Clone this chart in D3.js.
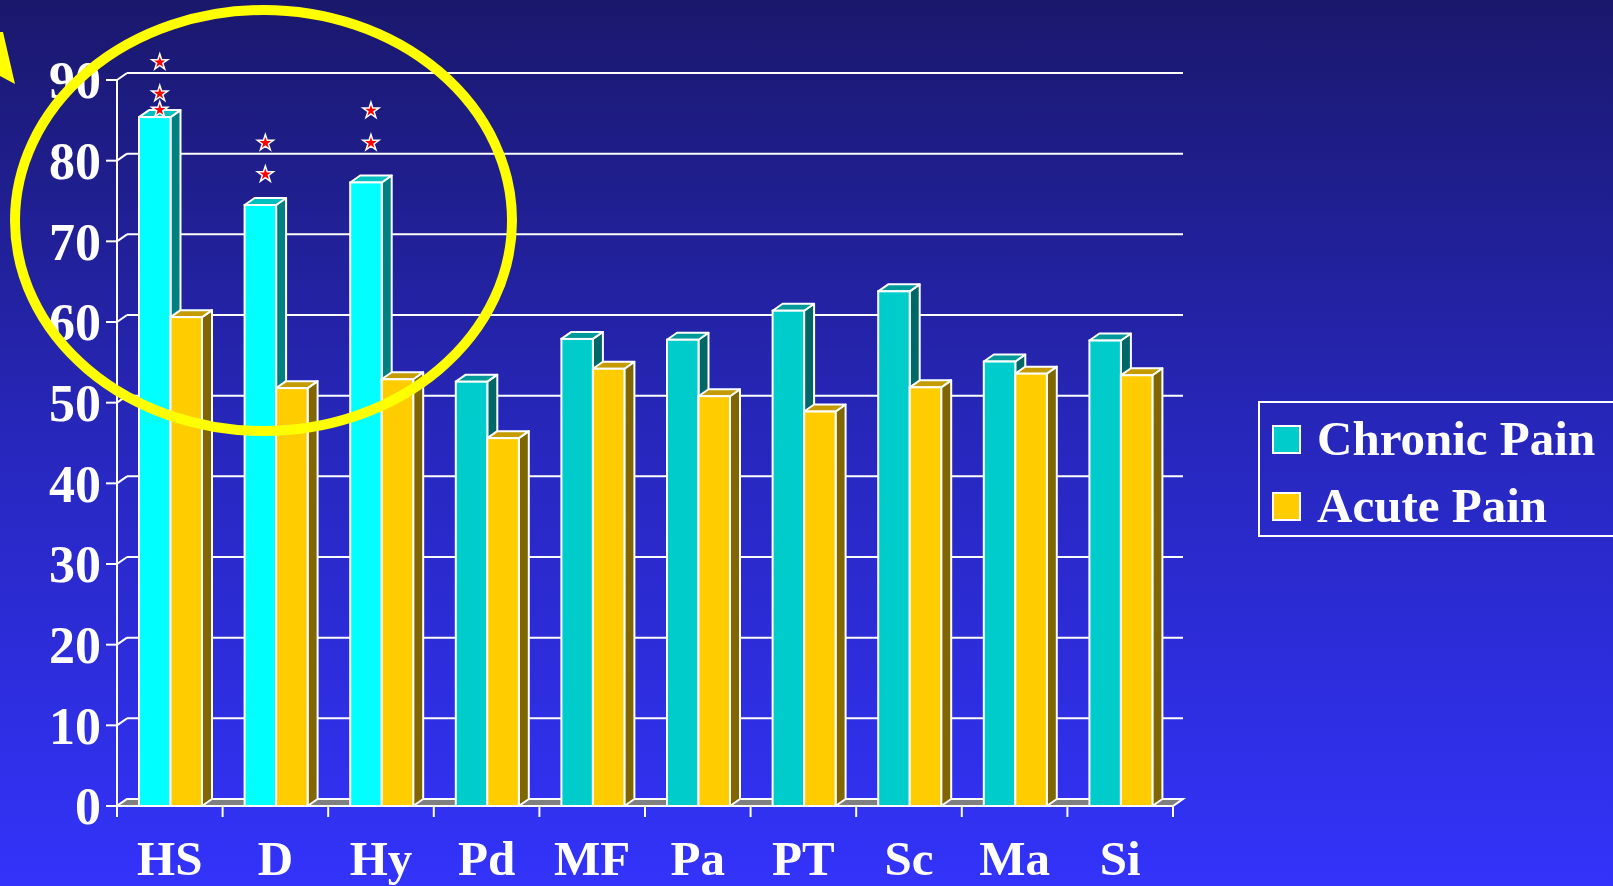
<!DOCTYPE html>
<html>
<head>
<meta charset="utf-8">
<script src="https://cdn.jsdelivr.net/npm/d3@7"></script>
<style>
  html, body { margin: 0; padding: 0; background: #1a186c; }
  svg { display: block; }
</style>
</head>
<body>
<div id="grafico"></div>
<script>
// Datos
const categorias = ["HS", "D", "Hy", "Pd", "MF", "Pa", "PT", "Sc", "Ma", "Si"];
const series = ["Chronic Pain", "Acute Pain"];
const dolorCronico = [85.4, 74.5, 77.3, 52.6, 57.9, 57.8, 61.4, 63.8, 55.1, 57.7];
const dolorAgudo = [60.6, 51.8, 52.9, 45.6, 54.2, 50.8, 48.9, 51.9, 53.6, 53.4];
const destacadas = ["HS", "D", "Hy"];
const ticksY = [0, 10, 20, 30, 40, 50, 60, 70, 80, 90];
// Estrellas de significación (valor del eje Y donde se dibuja cada una)
const estrellasCat = ["HS", "HS", "HS", "D", "D", "Hy", "Hy"];
const estrellasVal = [92.2, 88.3, 86.3, 82.2, 78.3, 86.2, 82.2];

// Dimensiones
const ancho = 1613;
const alto = 886;
const prof = { dx: 10, dy: -7 };   // desplazamiento de la profundidad 3D

const svg = d3.select("#grafico")
  .append("svg")
  .attr("width", ancho)
  .attr("height", alto);

// Fondo degradado
const defs = svg.append("defs");
const grad = defs.append("linearGradient")
  .attr("id", "fondo")
  .attr("x1", 0).attr("y1", 0).attr("x2", 0).attr("y2", 1);
grad.append("stop").attr("offset", "0%").attr("stop-color", "#1a186c");
grad.append("stop").attr("offset", "50%").attr("stop-color", "#2727bd");
grad.append("stop").attr("offset", "100%").attr("stop-color", "#3333fb");

svg.append("rect")
  .attr("width", ancho)
  .attr("height", alto)
  .attr("fill", "url(#fondo)");

// Escalas
const x = d3.scaleBand()
  .domain(categorias)
  .range([117, 1173])
  .padding(0);

const xSerie = d3.scaleBand()
  .domain(series)
  .range([22, 85]);

const y = d3.scaleLinear()
  .domain([0, 90])
  .range([806, 80]);

const fuente = "'Liberation Serif', 'Times New Roman', serif";
const x0 = x.range()[0];
const x1 = x.range()[1];

// Pared del fondo: líneas de cuadrícula y diagonales del eje
const gRejilla = svg.append("g");
gRejilla.selectAll(".rejilla")
  .data(ticksY.filter(d => d > 0))
  .enter()
  .append("line")
  .attr("x1", x0 + prof.dx)
  .attr("x2", x1 + prof.dx)
  .attr("y1", d => y(d) + prof.dy)
  .attr("y2", d => y(d) + prof.dy)
  .attr("stroke", "#fff")
  .attr("stroke-width", 2);

gRejilla.selectAll(".diag")
  .data(ticksY)
  .enter()
  .append("line")
  .attr("x1", x0)
  .attr("x2", x0 + prof.dx)
  .attr("y1", d => y(d))
  .attr("y2", d => y(d) + prof.dy)
  .attr("stroke", "#fff")
  .attr("stroke-width", 2);

// Suelo gris
svg.append("polygon")
  .attr("points", [
    [x0, y(0)], [x1, y(0)], [x1 + prof.dx, y(0) + prof.dy], [x0 + prof.dx, y(0) + prof.dy]
  ].map(p => p.join(",")).join(" "))
  .attr("fill", "#808080")
  .attr("stroke", "#fff")
  .attr("stroke-width", 2);

// Colores de las barras (frente, arriba, lado)
function colores(cat, serie) {
  if (serie === "Acute Pain") return ["#ffcc00", "#c49b00", "#806600"];
  if (destacadas.includes(cat)) return ["#00ffff", "#00c0c0", "#008080"];
  return ["#00cccc", "#009999", "#006666"];
}

const barras = [];
categorias.forEach((c, i) => {
  barras.push({ cat: c, serie: series[0], valor: dolorCronico[i] });
  barras.push({ cat: c, serie: series[1], valor: dolorAgudo[i] });
});

const gBarras = svg.append("g");
const barra = gBarras.selectAll(".barra")
  .data(barras)
  .enter()
  .append("g")
  .attr("class", "barra");

const pts = arr => arr.map(p => p.join(",")).join(" ");

// Lado derecho
barra.append("polygon")
  .attr("points", d => {
    const bx = x(d.cat) + xSerie(d.serie), w = xSerie.bandwidth();
    const yt = y(d.valor), yb = y(0);
    return pts([[bx + w, yt], [bx + w + prof.dx, yt + prof.dy], [bx + w + prof.dx, yb + prof.dy], [bx + w, yb]]);
  })
  .attr("fill", d => colores(d.cat, d.serie)[2])
  .attr("stroke", "#fff")
  .attr("stroke-width", 2)
  .attr("stroke-linejoin", "round");

// Cara superior
barra.append("polygon")
  .attr("points", d => {
    const bx = x(d.cat) + xSerie(d.serie), w = xSerie.bandwidth();
    const yt = y(d.valor);
    return pts([[bx, yt], [bx + prof.dx, yt + prof.dy], [bx + w + prof.dx, yt + prof.dy], [bx + w, yt]]);
  })
  .attr("fill", d => colores(d.cat, d.serie)[1])
  .attr("stroke", "#fff")
  .attr("stroke-width", 2)
  .attr("stroke-linejoin", "round");

// Frente
barra.append("rect")
  .attr("x", d => x(d.cat) + xSerie(d.serie))
  .attr("y", d => y(d.valor))
  .attr("width", xSerie.bandwidth())
  .attr("height", d => y(0) - y(d.valor))
  .attr("fill", d => colores(d.cat, d.serie)[0])
  .attr("stroke", "#fff")
  .attr("stroke-width", 2);

// Eje Y
const gEjeY = svg.append("g");
gEjeY.append("line")
  .attr("x1", x0).attr("x2", x0)
  .attr("y1", y(90)).attr("y2", y(0) + 11)
  .attr("stroke", "#fff")
  .attr("stroke-width", 2);

gEjeY.selectAll(".tick")
  .data(ticksY)
  .enter()
  .append("line")
  .attr("x1", x0 - 11)
  .attr("x2", x0)
  .attr("y1", d => y(d))
  .attr("y2", d => y(d))
  .attr("stroke", "#fff")
  .attr("stroke-width", 2);

gEjeY.selectAll(".etiqueta")
  .data(ticksY)
  .enter()
  .append("text")
  .attr("x", 101)
  .attr("y", d => y(d))
  .attr("dy", "0.35em")
  .attr("text-anchor", "end")
  .attr("font-family", fuente)
  .attr("font-weight", "bold")
  .attr("font-size", "52px")
  .attr("fill", "#fff")
  .text(d => d);

// Eje X
const gEjeX = svg.append("g");
gEjeX.append("line")
  .attr("x1", x0 - 11).attr("x2", x1)
  .attr("y1", y(0)).attr("y2", y(0))
  .attr("stroke", "#fff")
  .attr("stroke-width", 2);

gEjeX.selectAll(".tick")
  .data(categorias.slice(1).map(c => x(c)).concat([x1]))
  .enter()
  .append("line")
  .attr("x1", d => d).attr("x2", d => d)
  .attr("y1", y(0)).attr("y2", y(0) + 11)
  .attr("stroke", "#fff")
  .attr("stroke-width", 2);

gEjeX.selectAll(".etiqueta")
  .data(categorias)
  .enter()
  .append("text")
  .attr("x", d => x(d) + x.bandwidth() / 2)
  .attr("y", 875)
  .attr("text-anchor", "middle")
  .attr("font-family", fuente)
  .attr("font-weight", "bold")
  .attr("font-size", "49px")
  .attr("fill", "#fff")
  .text(d => d);

// Estrellas
const estrella = d3.symbol().type(d3.symbolStar).size(80);
svg.append("g").selectAll("path")
  .data(estrellasCat.map((c, i) => ({ cat: c, valor: estrellasVal[i] })))
  .enter()
  .append("path")
  .attr("d", estrella)
  .attr("transform", d => {
    const cx = x(d.cat) + xSerie(series[0]) + xSerie.bandwidth() / 2 + prof.dx / 2;
    return `translate(${cx},${y(d.valor)})`;
  })
  .attr("fill", "#ff0000")
  .attr("stroke", "#fff")
  .attr("stroke-width", 1.5);

// Elipse amarilla y flecha
svg.append("ellipse")
  .attr("cx", 263.5)
  .attr("cy", 220.5)
  .attr("rx", 248.5)
  .attr("ry", 210.5)
  .attr("fill", "none")
  .attr("stroke", "#ffff00")
  .attr("stroke-width", 10);

svg.append("polygon")
  .attr("points", "0,32 3,32 15,84 0,76")
  .attr("fill", "#ffff00");

// Leyenda
const leyenda = svg.append("g");
leyenda.append("rect")
  .attr("x", 1259)
  .attr("y", 402)
  .attr("width", 420)
  .attr("height", 134)
  .attr("fill", "none")
  .attr("stroke", "#fff")
  .attr("stroke-width", 2);

const coloresLeyenda = ["#00cccc", "#ffcc00"];
const items = leyenda.selectAll(".item")
  .data(series)
  .enter()
  .append("g")
  .attr("transform", (d, i) => `translate(1273,${426 + i * 67})`);

items.append("rect")
  .attr("width", 27)
  .attr("height", 27)
  .attr("fill", (d, i) => coloresLeyenda[i])
  .attr("stroke", "#fff")
  .attr("stroke-width", 2);

items.append("text")
  .attr("x", 44)
  .attr("y", 29)
  .attr("font-family", fuente)
  .attr("font-weight", "bold")
  .attr("font-size", "49px")
  .attr("fill", "#fff")
  .text(d => d);
</script>
</body>
</html>
